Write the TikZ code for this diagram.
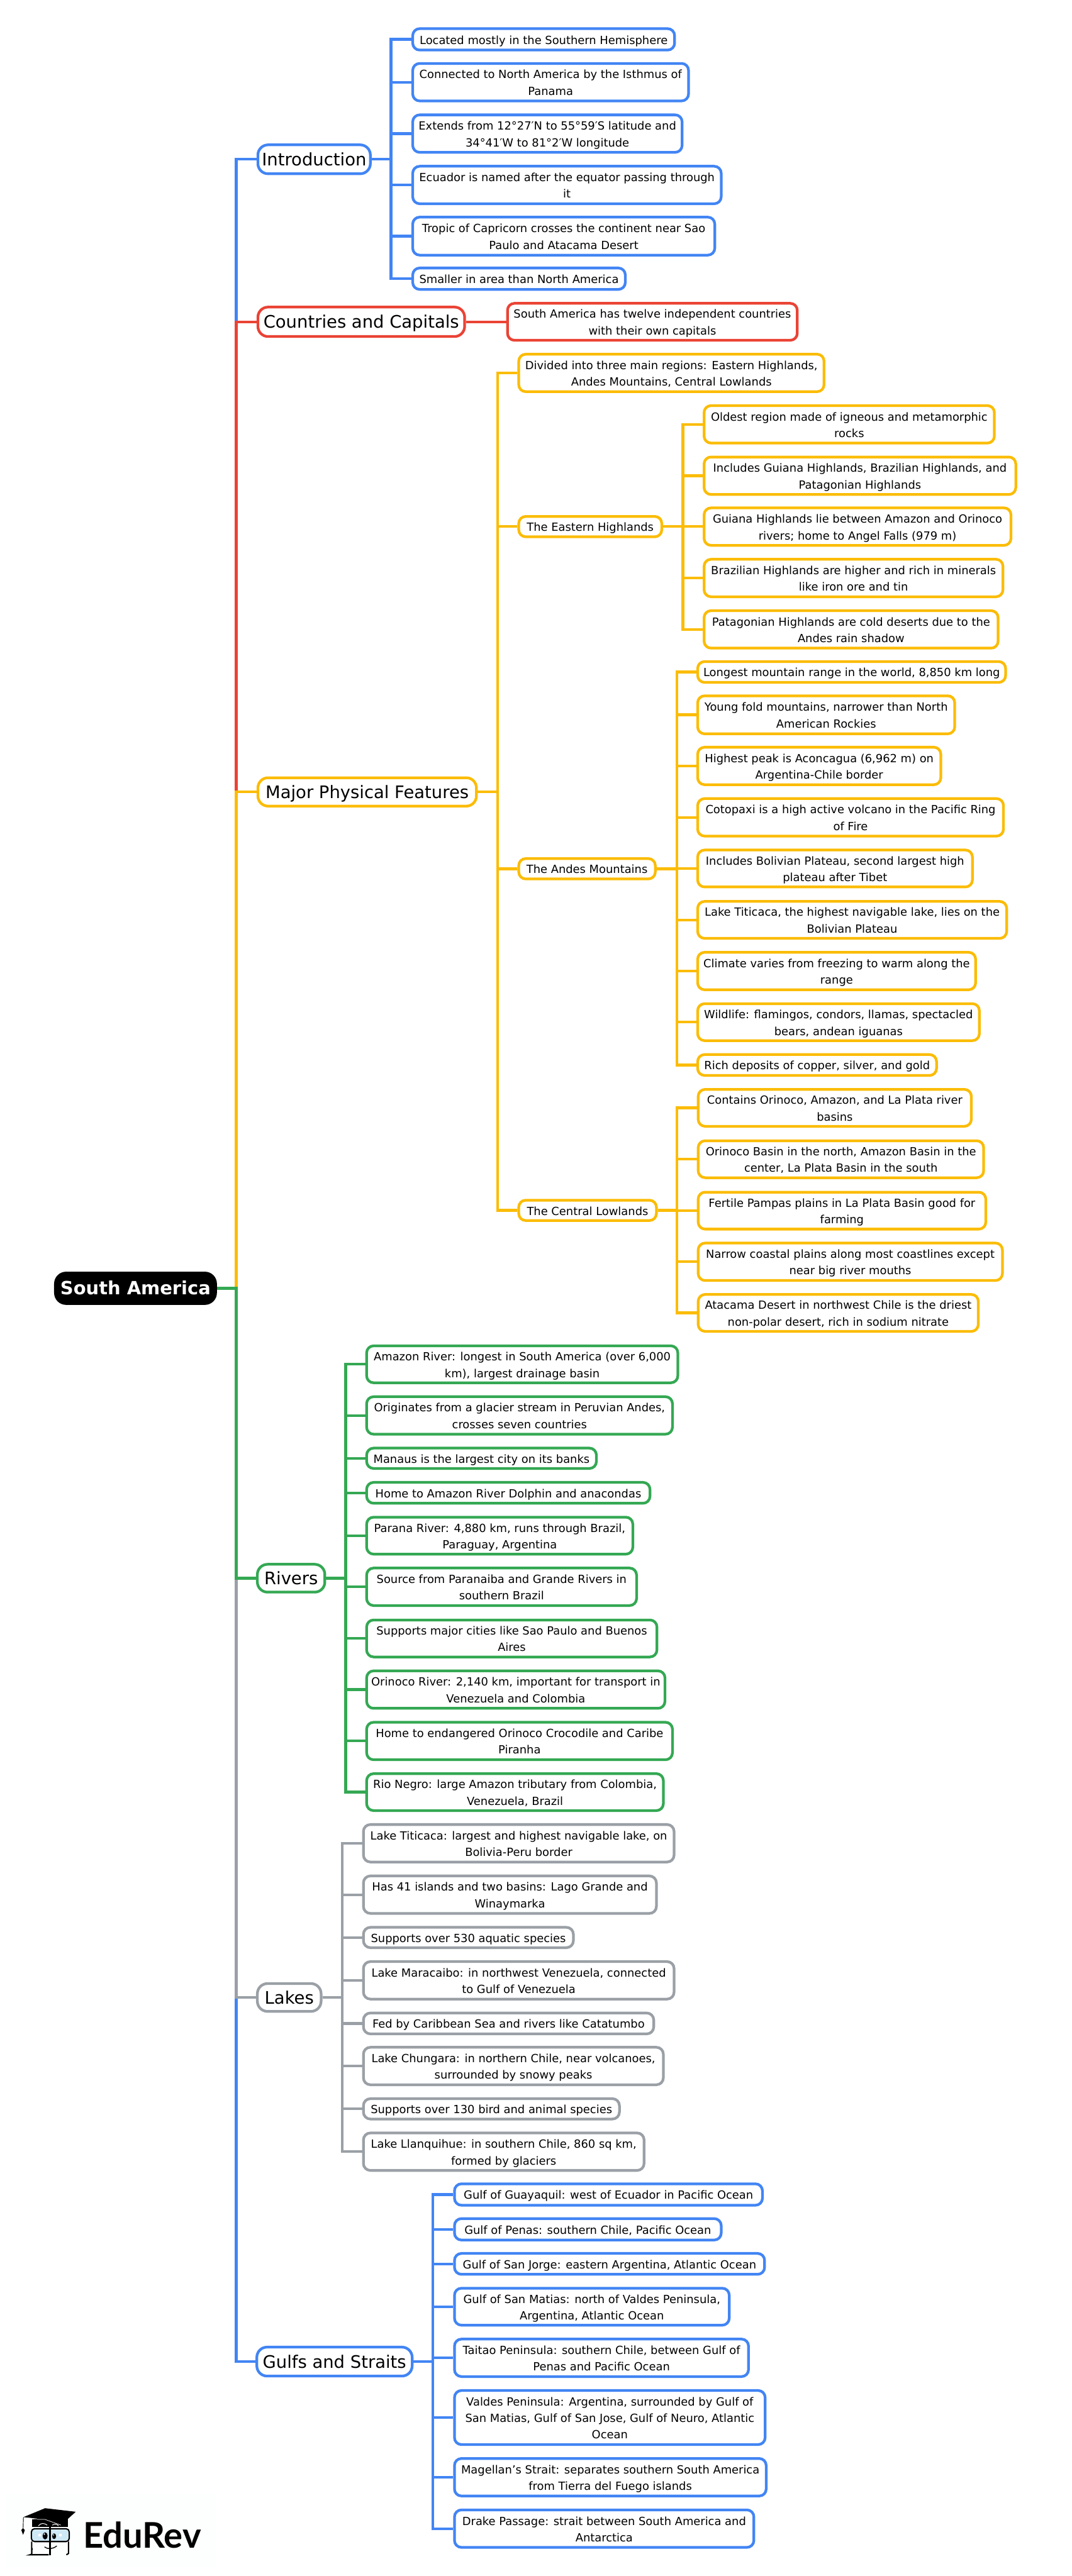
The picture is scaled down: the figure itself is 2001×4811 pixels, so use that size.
\documentclass[tikz,border=0pt]{standalone}
\usepackage{fontspec}
\setmainfont{DejaVu Sans}
\newfontfamily\logofont{Lato}
\definecolor{cblue}{HTML}{4285F4}
\definecolor{cred}{HTML}{EA4335}
\definecolor{cyellow}{HTML}{FBBC04}
\definecolor{cgreen}{HTML}{34A853}
\definecolor{cgrey}{HTML}{9AA0A6}
\definecolor{logoblue}{HTML}{CFE8F5}
\definecolor{logobg}{HTML}{FDFEFE}
\newcommand{\setstr}[2]{\def\hh{#1}\def\dd{#2}}
\tikzset{
  box/.style={draw,fill=white,line width=5pt,inner sep=0pt,align=center,text=black},
  leaf/.style={box,rounded corners=13pt,font=\fontsize{21}{31}\selectfont\setstr{22pt}{4.4pt}},
  top/.style={box,rounded corners=19pt,font=\fontsize{32.2}{38}\selectfont\setstr{32pt}{8pt}},
  rootbox/.style={box,draw=black,fill=black,text=white,rounded corners=20pt,font=\fontsize{34}{40}\selectfont\bfseries\setstr{34pt}{9.6pt}},
  conn/.style={line width=5pt,line join=miter},
}
\newcommand{\nd}[7]{\node[#6,minimum width={#4-#2-5},minimum height={#5-#3-5}] (#1) at ({(#2+#4)/2},{(#3+#5)/2}) {\rule{0pt}{\hh}#7\rule[-\dd]{0pt}{\dd}};}
\begin{document}
\begin{tikzpicture}[x=1pt,y=-1pt]
\useasboundingbox (0,0) rectangle (2001,4811);
\fill[white] (0,0) rectangle (2001,4811);
% root
\nd{root}{101}{2375}{405}{2437}{rootbox}{South America}
% introduction
\nd{intro}{479}{268}{694}{327}{top,draw=cblue}{Introduction}
\nd{a1}{768}{51}{1262}{96}{leaf,draw=cblue}{Located mostly in the Southern Hemisphere}
\nd{a2}{768}{116}{1288}{191}{leaf,draw=cblue}{Connected to North America by the Isthmus of\\Panama}
\nd{a3}{768}{212}{1276}{287}{leaf,draw=cblue}{Extends from 12°27′N to 55°59′S latitude and\\34°41′W to 81°2′W longitude}
\nd{a4}{768}{308}{1349}{383}{leaf,draw=cblue}{Ecuador is named after the equator passing through\\it}
\nd{a5}{768}{403}{1337}{479}{leaf,draw=cblue}{Tropic of Capricorn crosses the continent near Sao\\Paulo and Atacama Desert}
\nd{a6}{768}{498}{1170}{543}{leaf,draw=cblue}{Smaller in area than North America}
% countries
\nd{cc}{479}{571}{870}{631}{top,draw=cred}{Countries and Capitals}
\nd{c1}{945}{564}{1491}{638}{leaf,draw=cred}{South America has twelve independent countries\\with their own capitals}
% major
\nd{mj}{479}{1450}{892}{1508}{top,draw=cyellow}{Major Physical Features}
\nd{m0}{966}{659}{1541}{734}{leaf,draw=cyellow}{Divided into three main regions: Eastern Highlands,\\Andes Mountains, Central Lowlands}
\nd{eh}{966}{962}{1238}{1005}{leaf,draw=cyellow}{The Eastern Highlands}
\nd{e1}{1312}{755}{1859}{830}{leaf,draw=cyellow}{Oldest region made of igneous and metamorphic\\rocks}
\nd{e2}{1312}{851}{1899}{926}{leaf,draw=cyellow}{Includes Guiana Highlands, Brazilian Highlands, and\\Patagonian Highlands}
\nd{e3}{1312}{946}{1890}{1021}{leaf,draw=cyellow}{Guiana Highlands lie between Amazon and Orinoco\\rivers; home to Angel Falls (979 m)}
\nd{e4}{1312}{1042}{1875}{1117}{leaf,draw=cyellow}{Brazilian Highlands are higher and rich in minerals\\like iron ore and tin}
\nd{e5}{1312}{1138}{1866}{1213}{leaf,draw=cyellow}{Patagonian Highlands are cold deserts due to the\\Andes rain shadow}
\nd{am}{966}{1601}{1226}{1644}{leaf,draw=cyellow}{The Andes Mountains}
\nd{f1}{1300}{1233}{1880}{1277}{leaf,draw=cyellow}{Longest mountain range in the world, 8,850 km long}
\nd{f2}{1300}{1297}{1785}{1373}{leaf,draw=cyellow}{Young fold mountains, narrower than North\\American Rockies}
\nd{f3}{1300}{1393}{1759}{1468}{leaf,draw=cyellow}{Highest peak is Aconcagua (6,962 m) on\\Argentina-Chile border}
\nd{f4}{1300}{1489}{1876}{1564}{leaf,draw=cyellow}{Cotopaxi is a high active volcano in the Pacific Ring\\of Fire}
\nd{f5}{1300}{1585}{1818}{1659}{leaf,draw=cyellow}{Includes Bolivian Plateau, second largest high\\plateau after Tibet}
\nd{f6}{1300}{1681}{1882}{1755}{leaf,draw=cyellow}{Lake Titicaca, the highest navigable lake, lies on the\\Bolivian Plateau}
\nd{f7}{1300}{1776}{1824}{1851}{leaf,draw=cyellow}{Climate varies from freezing to warm along the\\range}
\nd{f8}{1300}{1872}{1831}{1946}{leaf,draw=cyellow}{Wildlife: flamingos, condors, llamas, spectacled\\bears, andean iguanas}
\nd{f9}{1300}{1967}{1751}{2011}{leaf,draw=cyellow}{Rich deposits of copper, silver, and gold}
\nd{cl}{966}{2239}{1228}{2282}{leaf,draw=cyellow}{The Central Lowlands}
\nd{g1}{1301}{2032}{1816}{2106}{leaf,draw=cyellow}{Contains Orinoco, Amazon, and La Plata river\\basins}
\nd{g2}{1301}{2128}{1839}{2202}{leaf,draw=cyellow}{Orinoco Basin in the north, Amazon Basin in the\\center, La Plata Basin in the south}
\nd{g3}{1301}{2224}{1843}{2298}{leaf,draw=cyellow}{Fertile Pampas plains in La Plata Basin good for\\farming}
\nd{g4}{1301}{2319}{1874}{2394}{leaf,draw=cyellow}{Narrow coastal plains along most coastlines except\\near big river mouths}
\nd{g5}{1301}{2415}{1829}{2489}{leaf,draw=cyellow}{Atacama Desert in northwest Chile is the driest\\non-polar desert, rich in sodium nitrate}
% rivers
\nd{rv}{478}{2919}{609}{2976}{top,draw=cgreen}{Rivers}
\nd{r1}{682}{2511}{1268}{2585}{leaf,draw=cgreen}{Amazon River: longest in South America (over 6,000\\km), largest drainage basin}
\nd{r2}{682}{2606}{1258}{2681}{leaf,draw=cgreen}{Originates from a glacier stream in Peruvian Andes,\\crosses seven countries}
\nd{r3}{682}{2702}{1116}{2745}{leaf,draw=cgreen}{Manaus is the largest city on its banks}
\nd{r4}{682}{2766}{1216}{2810}{leaf,draw=cgreen}{Home to Amazon River Dolphin and anacondas}
\nd{r5}{682}{2831}{1184}{2905}{leaf,draw=cgreen}{Parana River: 4,880 km, runs through Brazil,\\Paraguay, Argentina}
\nd{r6}{682}{2926}{1191}{3001}{leaf,draw=cgreen}{Source from Paranaiba and Grande Rivers in\\southern Brazil}
\nd{r7}{682}{3023}{1229}{3097}{leaf,draw=cgreen}{Supports major cities like Sao Paulo and Buenos\\Aires}
\nd{r8}{682}{3118}{1244}{3193}{leaf,draw=cgreen}{Orinoco River: 2,140 km, important for transport in\\Venezuela and Colombia}
\nd{r9}{682}{3214}{1258}{3289}{leaf,draw=cgreen}{Home to endangered Orinoco Crocodile and Caribe\\Piranha}
\nd{r10}{682}{3310}{1241}{3384}{leaf,draw=cgreen}{Rio Negro: large Amazon tributary from Colombia,\\Venezuela, Brazil}
% lakes
\nd{lk}{478}{3702}{602}{3759}{top,draw=cgrey}{Lakes}
\nd{l1}{676}{3405}{1261}{3480}{leaf,draw=cgrey}{Lake Titicaca: largest and highest navigable lake, on\\Bolivia-Peru border}
\nd{l2}{676}{3501}{1228}{3576}{leaf,draw=cgrey}{Has 41 islands and two basins: Lago Grande and\\Winaymarka}
\nd{l3}{676}{3597}{1073}{3640}{leaf,draw=cgrey}{Supports over 530 aquatic species}
\nd{l4}{676}{3661}{1261}{3736}{leaf,draw=cgrey}{Lake Maracaibo: in northwest Venezuela, connected\\to Gulf of Venezuela}
\nd{l5}{676}{3757}{1223}{3801}{leaf,draw=cgrey}{Fed by Caribbean Sea and rivers like Catatumbo}
\nd{l6}{676}{3821}{1241}{3896}{leaf,draw=cgrey}{Lake Chungara: in northern Chile, near volcanoes,\\surrounded by snowy peaks}
\nd{l7}{676}{3917}{1159}{3960}{leaf,draw=cgrey}{Supports over 130 bird and animal species}
\nd{l8}{676}{3981}{1205}{4056}{leaf,draw=cgrey}{Lake Llanquihue: in southern Chile, 860 sq km,\\formed by glaciers}
% gulfs
\nd{gs}{477}{4381}{772}{4440}{top,draw=cblue}{Gulfs and Straits}
\nd{s1}{846}{4076}{1426}{4121}{leaf,draw=cblue}{Gulf of Guayaquil: west of Ecuador in Pacific Ocean}
\nd{s2}{846}{4141}{1349}{4186}{leaf,draw=cblue}{Gulf of Penas: southern Chile, Pacific Ocean}
\nd{s3}{846}{4206}{1430}{4250}{leaf,draw=cblue}{Gulf of San Jorge: eastern Argentina, Atlantic Ocean}
\nd{s4}{846}{4271}{1364}{4345}{leaf,draw=cblue}{Gulf of San Matias: north of Valdes Peninsula,\\Argentina, Atlantic Ocean}
\nd{s5}{846}{4366}{1400}{4441}{leaf,draw=cblue}{Taitao Peninsula: southern Chile, between Gulf of\\Penas and Pacific Ocean}
\nd{s6}{846}{4462}{1431}{4568}{leaf,draw=cblue}{Valdes Peninsula: Argentina, surrounded by Gulf of\\San Matias, Gulf of San Jose, Gulf of Neuro, Atlantic\\Ocean}
\nd{s7}{846}{4589}{1433}{4664}{leaf,draw=cblue}{Magellan’s Strait: separates southern South America\\from Tierra del Fuego islands}
\nd{s8}{846}{4685}{1410}{4760}{leaf,draw=cblue}{Drake Passage: strait between South America and\\Antarctica}
% connectors, second level
\foreach \c in {a1,a2,a3,a4,a5,a6}{\draw[conn,cblue] (intro.east) -- ++(36,0) |- (\c.west);}
\draw[conn,cred] (cc.east) -- (c1.west);
\foreach \c in {m0,eh,am,cl}{\draw[conn,cyellow] (mj.east) -- ++(37,0) |- (\c.west);}
\foreach \c in {e1,e2,e3,e4,e5}{\draw[conn,cyellow] (eh.east) -- ++(37,0) |- (\c.west);}
\foreach \c in {f1,f2,f3,f4,f5,f6,f7,f8,f9}{\draw[conn,cyellow] (am.east) -- ++(37.5,0) |- (\c.west);}
\foreach \c in {g1,g2,g3,g4,g5}{\draw[conn,cyellow] (cl.east) -- ++(36,0) |- (\c.west);}
\foreach \c in {r1,r2,r3,r4,r5,r6,r7,r8,r9,r10}{\draw[conn,cgreen] (rv.east) -- ++(36.5,0) |- (\c.west);}
\foreach \c in {l1,l2,l3,l4,l5,l6,l7,l8}{\draw[conn,cgrey] (lk.east) -- ++(37,0) |- (\c.west);}
\foreach \c in {s1,s2,s3,s4,s5,s6,s7,s8}{\draw[conn,cblue] (gs.east) -- ++(36,0) |- (\c.west);}
% trunk
\draw[conn,cblue] (root.east) -- ++(36,0) |- (intro.west);
\draw[conn,cred] (root.east) -- ++(36,0) |- (cc.west);
\draw[conn,cblue] (root.east) -- ++(36,0) |- (gs.west);
\draw[conn,cgrey] (root.east) -- ++(36,0) |- (lk.west);
\draw[conn,cyellow] (root.east) -- ++(36,0) |- (mj.west);
\draw[conn,cgreen] (root.east) -- ++(36,0) |- (rv.west);
% logo
\fill[logobg] (10,4658) rectangle (403,4795);
\node[anchor=base west,inner sep=0pt,font=\fontsize{66}{70}\logofont\bfseries,text=black] (logo) at (155,4759) {EduRev};
\begin{scope}[yshift=-4630pt,x=0.3367pt,y=-0.3333pt]
  % cap body
  \fill[black] (178,222) -- (378,222) -- (378,268) -- (178,268) -- cycle;
  \draw[white,line width=1.2pt] (213,262) .. controls (225,245) and (245,245) .. (262,258);
  \draw[white,line width=1.2pt] (290,258) .. controls (300,250) and (315,250) .. (325,262);
  % board
  \fill[black] (130,213) -- (250,163) -- (420,183) -- (338,258) -- (250,226) -- cycle;
  \draw[white,line width=0.8pt] (178,225) -- (250,226) -- (338,258);
  % tassel
  \draw[black,line width=1.1pt] (130,213) -- (128,280);
  \fill[black] (118,285) -- (128,275) -- (138,285) -- (128,312) -- cycle;
  % glasses
  \draw[black,fill=logoblue,line width=2.4pt,rounded corners=6pt] (174,278) rectangle (384,350);
  % lower face
  \draw[black,line width=2.4pt,rounded corners=8pt] (270,424) -- (190,424) .. controls (178,424) and (176,410) .. (176,395) -- (176,350);
  \draw[black,line width=2.4pt,rounded corners=8pt] (380,350) -- (380,395) .. controls (380,410) and (378,424) .. (368,424);
  % bridge
  \draw[black,line width=2.6pt] (277,268) -- (277,426);
  % eyes
  \fill[black] (250,318) ellipse (14 and 20);
  \fill[black] (300,320) ellipse (11 and 16);
  \fill[white] (246,308) ellipse (4 and 5);
  \fill[white] (297,313) ellipse (3.5 and 4);
  \fill[white] (213,308) rectangle (226,320);
  \fill[white] (329,308) rectangle (343,320);
  % smile
  \draw[black,line width=1.6pt] (247,380) .. controls (265,395) and (295,392) .. (315,374);
\end{scope}
\end{tikzpicture}
\end{document}
